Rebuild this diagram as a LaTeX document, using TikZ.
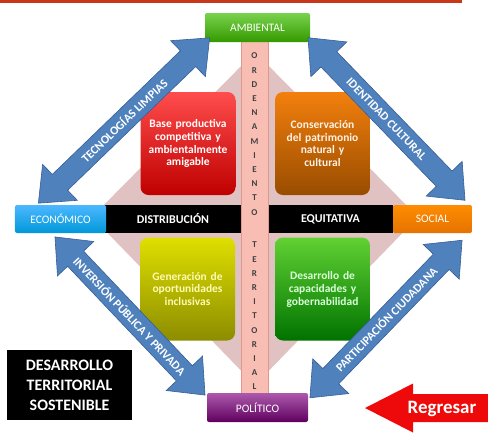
\documentclass[tikz,border=0pt]{standalone}
\usepackage{fontspec}
\setmainfont{Carlito}
\definecolor{topred}{RGB}{200,55,25}
\definecolor{diamondpink}{RGB}{224,194,194}
\definecolor{barpink}{RGB}{248,190,180}
\definecolor{barpinkdark}{RGB}{228,150,140}
\definecolor{arrowblue}{RGB}{79,129,189}
\definecolor{arrowbluedark}{RGB}{56,93,150}
\definecolor{regred}{RGB}{238,10,10}
\begin{document}
\begin{tikzpicture}[x=1bp,y=-1bp,
	axisbox/.style={rectangle,rounded corners=2bp,minimum height=29bp,inner sep=0pt,text=white},
	blackbar/.style={rectangle,fill=black,minimum height=28bp,inner sep=0pt,text=white},
	quadbox/.style={rectangle,rounded corners=8bp,minimum width=95bp,minimum height=103bp,inner sep=0pt,text width=88bp,align=center,font=\fontsize{11.5}{13}\selectfont\bfseries},
	bluearrow/.style={fill=arrowblue,draw=arrowbluedark,line width=0.6bp,line join=miter},
	arrowlabel/.style={text=white,inner sep=0pt,font=\fontsize{12}{12}\selectfont\bfseries},
	barletter/.style={inner sep=0pt,text=black!75}
	]
			\newcommand{\myfontaxis}[1]{
				\fontsize{11.5}{12}\selectfont{#1}
			}\newcommand{\myfontbar}[1]{
				\fontsize{12}{12}\selectfont\bfseries{#1}
			}\newcommand{\myfontletter}[1]{
				\fontsize{9}{9}\selectfont\bfseries{#1}
			}\newcommand{\myarrow}[3]{
				\begin{scope}[shift={#1},rotate=#2]
					\draw [bluearrow] ({-#3/2},0) -- ({-#3/2+30},25) -- ({-#3/2+30},11) -- ({#3/2-30},11) -- ({#3/2-30},25) -- ({#3/2},0) -- ({#3/2-30},-25) -- ({#3/2-30},-11) -- ({-#3/2+30},-11) -- ({-#3/2+30},-25) -- cycle;
				\end{scope}
			}%Page frame
			\useasboundingbox (0,0) rectangle (488,432);
			%Red line at the top
			\coordinate (lineL) at (0,1.5);
			\coordinate (lineR) at (462,1.5);
			\draw [topred,line width=3bp] (lineL) -- (lineR);
			%Diamond in the background
			\coordinate (dtop) at (255,52);
			\coordinate (dright) at (418,217);
			\coordinate (dbottom) at (255,385);
			\coordinate (dleft) at (92,217);
			\fill [diamondpink] (dtop) -- (dright) -- (dbottom) -- (dleft) -- cycle;
			%Boxes in the four quadrants
			\node [quadbox,top color=red!70!white,bottom color=red!75!black,text=white] (base) at (188,143.5) {Base productiva\\competitiva y\\ambientalmente\\amigable};
			\node [quadbox,top color=orange!80!brown,bottom color=orange!60!black,text=white!90!orange] (cons) at (322.5,143.5) {Conservación\\del patrimonio\\natural y\\cultural};
			\node [quadbox,top color=yellow!75!olive,bottom color=yellow!55!black,text=yellow!30!white] (gen) at (187.5,289) {Generación de\\oportunidades\\inclusivas};
			\node [quadbox,top color=green!55!olive!80!white,bottom color=green!45!black,text=green!15!white] (des) at (322.5,289) {Desarrollo de\\capacidades y\\gobernabilidad};
			%Horizontal axis
			\node [blackbar,minimum width=136bp] (distrib) at (173,219) {\myfontbar{DISTRIBUCIÓN}};
			\node [blackbar,minimum width=125bp] (equit) at (330.5,219) {\myfontbar{EQUITATIVA}};
			\node [axisbox,minimum width=91bp,minimum height=28bp,top color=cyan!60!blue!70!white,bottom color=cyan!70!blue!85!black] (econ) at (60.5,219) {\myfontaxis{ECONÓMICO}};
			\node [axisbox,minimum width=79bp,minimum height=28bp,top color=orange!90!yellow,bottom color=orange!90!black] (social) at (432.5,219) {\myfontaxis{SOCIAL}};
			%Vertical bar
			\node [rectangle,fill=barpink,draw=barpinkdark,line width=0.5bp,minimum width=27bp,minimum height=355bp,inner sep=0pt] (ordbar) at (254.5,217.5) {};
			\foreach \l [count=\i from 0] in {O,R,D,E,N,A,M,I,E,N,T,O} {
				\node [barletter] (ord\i) at (254.5,{56+14.2*\i}) {\myfontletter{\l}};
			}
			\foreach \l [count=\i from 0] in {T,E,R,R,I,T,O,R,I,A,L} {
				\node [barletter] (ter\i) at (254.5,{245+14.2*\i}) {\myfontletter{\l}};
			}
			%Vertical axis
			\node [axisbox,minimum width=105bp,top color=green!50!olive!70!white,bottom color=green!50!olive!80!black] (amb) at (257.5,27.5) {\myfontaxis{AMBIENTAL}};
			\node [axisbox,minimum width=101bp,top color=violet!65!white,bottom color=violet!75!black] (pol) at (257.5,407.5) {\myfontaxis{POLÍTICO}};
			%Blue double arrows
			\myarrow{(124,120.5)}{44}{238}
			\node [arrowlabel,rotate=44] (tecno) at (124,120.5) {TECNOLOGÍAS LIMPIAS};
			\myarrow{(386.5,119)}{-46}{226}
			\node [arrowlabel,rotate=-46] (ident) at (386.5,119) {IDENTIDAD CULTURAL};
			\myarrow{(130,316)}{-46.5}{218}
			\node [arrowlabel,rotate=-46.5] (inver) at (130,316) {INVERSIÓN PÚBLICA Y PRIVADA};
			\myarrow{(386,319)}{46}{219}
			\node [arrowlabel,rotate=46] (parti) at (386,319) {PARTICIPACIÓN CIUDADANA};
			%Title box
			\node [rectangle,fill=black,text=white,minimum width=125bp,minimum height=70bp,inner sep=0pt,align=center,font=\fontsize{16}{20}\selectfont\bfseries] (title) at (69.5,385) {DESARROLLO\\TERRITORIAL\\SOSTENIBLE};
			%Back button
			\coordinate (regtip) at (365,408);
			\coordinate (regheadT) at (413,383.5);
			\coordinate (regheadB) at (413,432.5);
			\fill [regred] (regtip) -- (regheadT) -- (413,394) -- (492,394) -- (492,422) -- (413,422) -- (regheadB) -- cycle;
			\node [text=white,inner sep=0pt,font=\fontsize{19}{19}\selectfont\bfseries] (regresar) at (442,409) {Regresar};
\end{tikzpicture}
\end{document}
